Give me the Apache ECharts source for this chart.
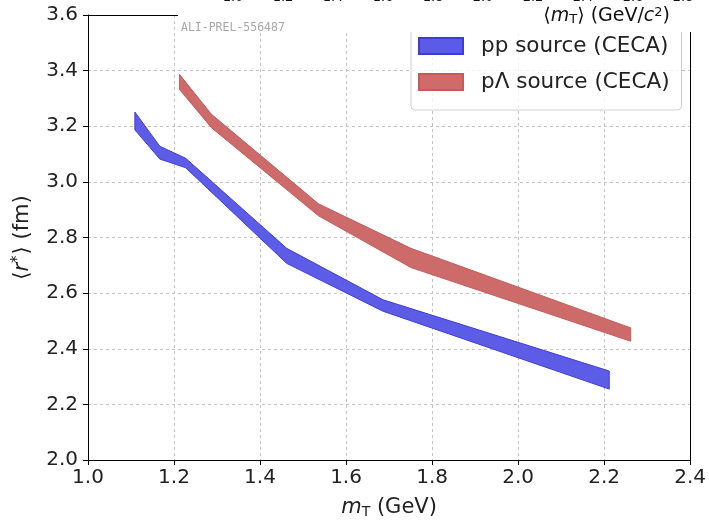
<!DOCTYPE html>
<html>
<head>
<meta charset="utf-8">
<script src="https://cdn.jsdelivr.net/npm/echarts@6/dist/echarts.min.js"></script>
<style>
  html, body { margin: 0; padding: 0; background: #fff; }
  #chart { width: 709px; height: 524px; }
</style>
</head>
<body>
<div id="chart"></div>
<script>
// CECA source-size bands: transverse mass vs. lower / upper edge of <r*>
const ppMt    = [1.109, 1.167, 1.227, 1.462, 1.686, 2.212];
const ppLow   = [3.187, 3.082, 3.051, 2.707, 2.535, 2.255];
const ppHigh  = [3.251, 3.128, 3.085, 2.761, 2.576, 2.320];

const pLMt    = [1.213, 1.287, 1.536, 1.751, 2.262];
const pLLow   = [3.332, 3.195, 2.878, 2.692, 2.427];
const pLHigh  = [3.386, 3.243, 2.921, 2.761, 2.475];

const seriesNames = ['pp source (CECA)', 'p\u039B source (CECA)'];

// tick labels of the neighbouring panel's top axis
const topPanelTicks = ['1.0', '1.2', '1.4', '1.6', '1.8', '2.0', '2.2', '2.4', '2.6', '2.8'];

const FONT = 'DejaVu Sans';

function bandData(mt, lo, hi) {
  return mt.map((x, i) => [x, lo[i], hi[i]]);
}

function bandRenderer(mt, lo, hi, fill, stroke) {
  return function (params, api) {
    if (params.dataIndex !== 0) return null;
    const pts = [];
    for (let i = 0; i < mt.length; i++) pts.push(api.coord([mt[i], hi[i]]));
    for (let i = mt.length - 1; i >= 0; i--) pts.push(api.coord([mt[i], lo[i]]));
    return {
      type: 'polygon',
      shape: { points: pts },
      style: { fill: fill, stroke: stroke, lineWidth: 1 }
    };
  };
}

const chart = echarts.init(document.getElementById('chart'), null, { renderer: 'canvas' });

const gridLine = {
  show: true, showMinLine: false, showMaxLine: false,
  lineStyle: { color: '#c4c4c4', type: [3, 3], width: 1 }
};
const spine = { show: true, onZero: false, lineStyle: { color: '#000', width: 1 } };

chart.setOption({
  animation: false,
  backgroundColor: '#fff',
  textStyle: { fontFamily: FONT },
  grid: { left: 88, right: 17, top: 15, bottom: 61 },
  xAxis: [
    {
      type: 'value', min: 1.0, max: 2.4, interval: 0.2,
      axisLine: spine,
      axisTick: { show: true, length: 5, lineStyle: { color: '#000' } },
      axisLabel: { fontSize: 20, color: '#222', margin: 8, formatter: v => v.toFixed(1) },
      splitLine: gridLine,
      name: '{i|m}{s|T} (GeV)',
      nameLocation: 'middle', nameGap: 36,
      nameTextStyle: {
        fontSize: 21, color: '#222',
        rich: {
          i: { fontSize: 21, fontStyle: 'italic', color: '#222', fontFamily: FONT },
          s: { fontSize: 14, color: '#222', verticalAlign: 'bottom', padding: [9, 0, 0, 0], fontFamily: FONT }
        }
      }
    },
    {
      type: 'value', position: 'top', min: 1.0, max: 2.4, interval: 0.2,
      axisLine: spine, axisTick: { show: false }, axisLabel: { show: false }, splitLine: { show: false }
    }
  ],
  yAxis: [
    {
      type: 'value', min: 2.0, max: 3.6, interval: 0.2,
      axisLine: spine,
      axisTick: { show: true, length: 5, lineStyle: { color: '#000' } },
      axisLabel: { fontSize: 20, color: '#222', margin: 10, formatter: v => v.toFixed(1) },
      splitLine: gridLine,
      name: '\u27E8{i|r}{p|*}\u27E9 (fm)',
      nameLocation: 'middle', nameGap: 54, nameRotate: 90,
      nameTextStyle: {
        fontSize: 21, color: '#222',
        rich: {
          i: { fontSize: 21, fontStyle: 'italic', color: '#222', fontFamily: FONT },
          p: { fontSize: 15, color: '#222', verticalAlign: 'top', padding: [0, 1, 8, 0], fontFamily: FONT }
        }
      }
    },
    {
      type: 'value', position: 'right', min: 2.0, max: 3.6, interval: 0.2,
      axisLine: spine, axisTick: { show: false }, axisLabel: { show: false }, splitLine: { show: false }
    }
  ],
  legend: {
    left: 411, top: 21,
    orient: 'vertical',
    data: seriesNames,
    icon: 'rect',
    itemWidth: 44, itemHeight: 16, itemGap: 14,
    padding: [14, 12, 17, 7],
    backgroundColor: 'rgba(255,255,255,0.8)',
    borderColor: '#d0d0d0', borderWidth: 1, borderRadius: 4,
    textStyle: { fontSize: 21.5, color: '#222', fontFamily: FONT, lineHeight: 22, padding: [0, 0, 0, 13] }
  },
  series: [
    {
      name: seriesNames[0], type: 'custom', z: 3,
      itemStyle: { color: '#5b5be8', borderColor: '#3c3cd6', borderWidth: 1 },
      data: bandData(ppMt, ppLow, ppHigh),
      renderItem: bandRenderer(ppMt, ppLow, ppHigh, '#5c5ce6', '#3f3fd8')
    },
    {
      name: seriesNames[1], type: 'custom', z: 3,
      itemStyle: { color: '#cf6b6b', borderColor: '#c45a5a', borderWidth: 1 },
      data: bandData(pLMt, pLLow, pLHigh),
      renderItem: bandRenderer(pLMt, pLLow, pLHigh, '#cd6a6a', '#c65c5c')
    }
  ],
  graphic: [
    // strip of the neighbouring panel covering the top edge
    { type: 'rect', z: 100, shape: { x: 178, y: 0, width: 531, height: 32 }, style: { fill: '#fff' } },
    {
      type: 'text', z: 101, left: 181, top: 22,
      style: { text: 'ALI-PREL-556487', font: '11.5px "DejaVu Sans Mono"', fill: '#a8a8a8' }
    },
    {
      type: 'text', z: 101, right: 39, top: 6,
      style: {
        text: '\u27E8{i|m}{s|T}\u27E9 (GeV/{i|c}{p|2})',
        font: '19px "DejaVu Sans"', fill: '#111',
        rich: {
          i: { fontSize: 19, fontStyle: 'italic', fill: '#111', fontFamily: FONT },
          s: { fontSize: 13, fill: '#111', verticalAlign: 'bottom', padding: [7, 0, 0, 0], fontFamily: FONT },
          p: { fontSize: 13, fill: '#111', verticalAlign: 'top', padding: [0, 0, 7, 0], fontFamily: FONT }
        }
      }
    }
  ].concat(topPanelTicks.map((t, i) => ({
    type: 'text', z: 101, x: 233 + i * 50, y: -9,
    style: { text: t, font: '13px "DejaVu Sans"', fill: '#111', align: 'center', verticalAlign: 'top' }
  })))
});
</script>
</body>
</html>
